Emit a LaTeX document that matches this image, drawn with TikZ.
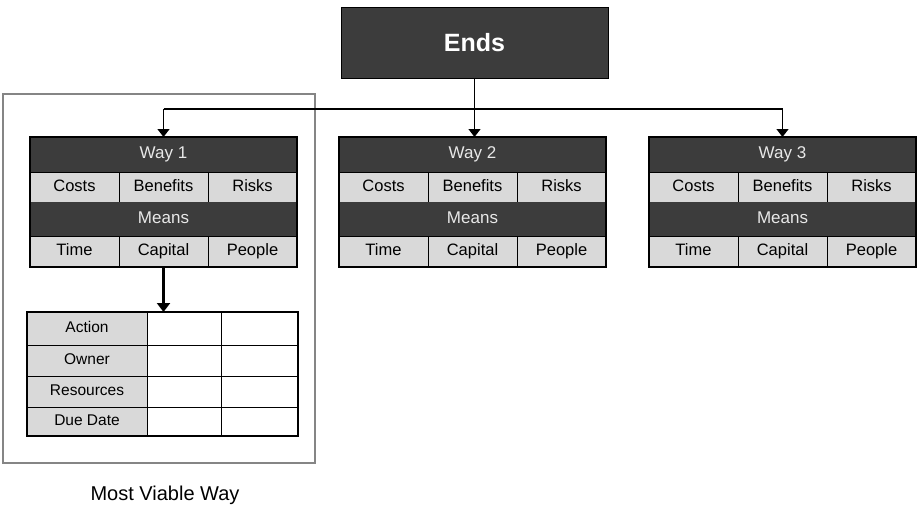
\documentclass[tikz,border=0pt]{standalone}
\usepackage{fontspec}
\setmainfont{Liberation Sans}
\usetikzlibrary{arrows.meta}

\definecolor{darkfill}{HTML}{3C3C3C}
\definecolor{cellfill}{HTML}{D9D9D9}
\definecolor{paletext}{HTML}{E8E8E8}
\definecolor{framegray}{HTML}{858585}

\tikzset{
  cellbase/.style={anchor=north west, inner sep=0pt, outer sep=0pt},
  celltext/.style={text height=12pt, text depth=3.5pt},
  titlerow/.style={cellbase, celltext, fill=darkfill, text=paletext,
    font=\fontsize{17}{19}\selectfont},
  lightcell/.style={cellbase, celltext, fill=cellfill, draw=black, line width=0.8pt,
    font=\fontsize{16.5}{18}\selectfont},
  blankcell/.style={cellbase, fill=white, draw=black, line width=0.8pt},
  heavyedge/.style={draw=black, line width=2.2pt},
  feed/.style={line width=1.3pt},
  feedarrow/.style={feed, -{Triangle[length=8pt,width=12pt]}},
  bigarrow/.style={line width=3pt, -{Triangle[length=9pt,width=13pt]}},
}

% One "Way" block: #1 node prefix, #2 left x, #3 way number
\newcommand\wayblock[3]{%
  \node[titlerow, minimum width=267, minimum height=35] (#1t) at (#2,137) {Way #3};
  \node[lightcell, minimum width=89, minimum height=30] (#1c1) at (#2,172) {Costs};
  \node[lightcell, minimum width=89, minimum height=30] (#1c2) at (#2+89,172) {Benefits};
  \node[lightcell, minimum width=89, minimum height=30] (#1c3) at (#2+178,172) {Risks};
  \node[titlerow, minimum width=267, minimum height=34] (#1m) at (#2,202) {Means};
  \node[lightcell, minimum width=89, minimum height=31] (#1p1) at (#2,236) {Time};
  \node[lightcell, minimum width=89, minimum height=31] (#1p2) at (#2+89,236) {Capital};
  \node[lightcell, minimum width=89, minimum height=31] (#1p3) at (#2+178,236) {People};
  \draw[heavyedge] (#1t.north west) rectangle (#1p3.south east);
}

\begin{document}
\begin{tikzpicture}[x=1pt, y=-1pt]
  \useasboundingbox[fill=white] (0,0) rectangle (917,504);

  % frame around the chosen way
  \node[cellbase, draw=framegray, line width=1.3pt, minimum width=312, minimum height=369]
    (frame) at (3,94) {};

  % goal box
  \node[cellbase, fill=darkfill, draw=black, line width=0.8pt, minimum width=267,
    minimum height=71, text=white, font=\bfseries\fontsize{25}{28}\selectfont]
    (ends) at (341,7) {Ends};

  % the three ways
  \wayblock{wa}{30}{1}
  \wayblock{wb}{339}{2}
  \wayblock{wc}{649}{3}

  % action plan table
  \node[lightcell, minimum width=120, minimum height=33, font=\fontsize{15.5}{17}\selectfont] (act)  at (27,312) {Action};
  \node[blankcell, minimum width=74,  minimum height=33] (act2) at (147,312) {};
  \node[blankcell, minimum width=77,  minimum height=33] (act3) at (221,312) {};
  \node[lightcell, minimum width=120, minimum height=31, font=\fontsize{15.5}{17}\selectfont] (own)  at (27,345) {Owner};
  \node[blankcell, minimum width=74,  minimum height=31] (own2) at (147,345) {};
  \node[blankcell, minimum width=77,  minimum height=31] (own3) at (221,345) {};
  \node[lightcell, minimum width=120, minimum height=31, font=\fontsize{15.5}{17}\selectfont] (res)  at (27,376) {Resources};
  \node[blankcell, minimum width=74,  minimum height=31] (res2) at (147,376) {};
  \node[blankcell, minimum width=77,  minimum height=31] (res3) at (221,376) {};
  \node[lightcell, minimum width=120, minimum height=29, font=\fontsize{15.5}{17}\selectfont] (due)  at (27,407) {Due Date};
  \node[blankcell, minimum width=74,  minimum height=29] (due2) at (147,407) {};
  \node[blankcell, minimum width=77,  minimum height=29] (due3) at (221,407) {};
  \draw[heavyedge] (act.north west) rectangle (due3.south east);

  % caption under the frame
  \node[font=\fontsize{20}{22}\selectfont] (caption) at (165,495) {Most Viable Way};

  % connectors
  \coordinate (bus) at (475,109);
  \draw[feed] (wat.north |- bus) -- (wct.north |- bus);
  \draw[feedarrow] (ends.south) -- (ends.south |- wbt.north);
  \draw[feedarrow] (wat.north |- bus) -- (wat.north);
  \draw[feedarrow] (wct.north |- bus) -- (wct.north);
  \draw[bigarrow] (wap2.south) -- (wap2.south |- act.north);
\end{tikzpicture}
\end{document}
